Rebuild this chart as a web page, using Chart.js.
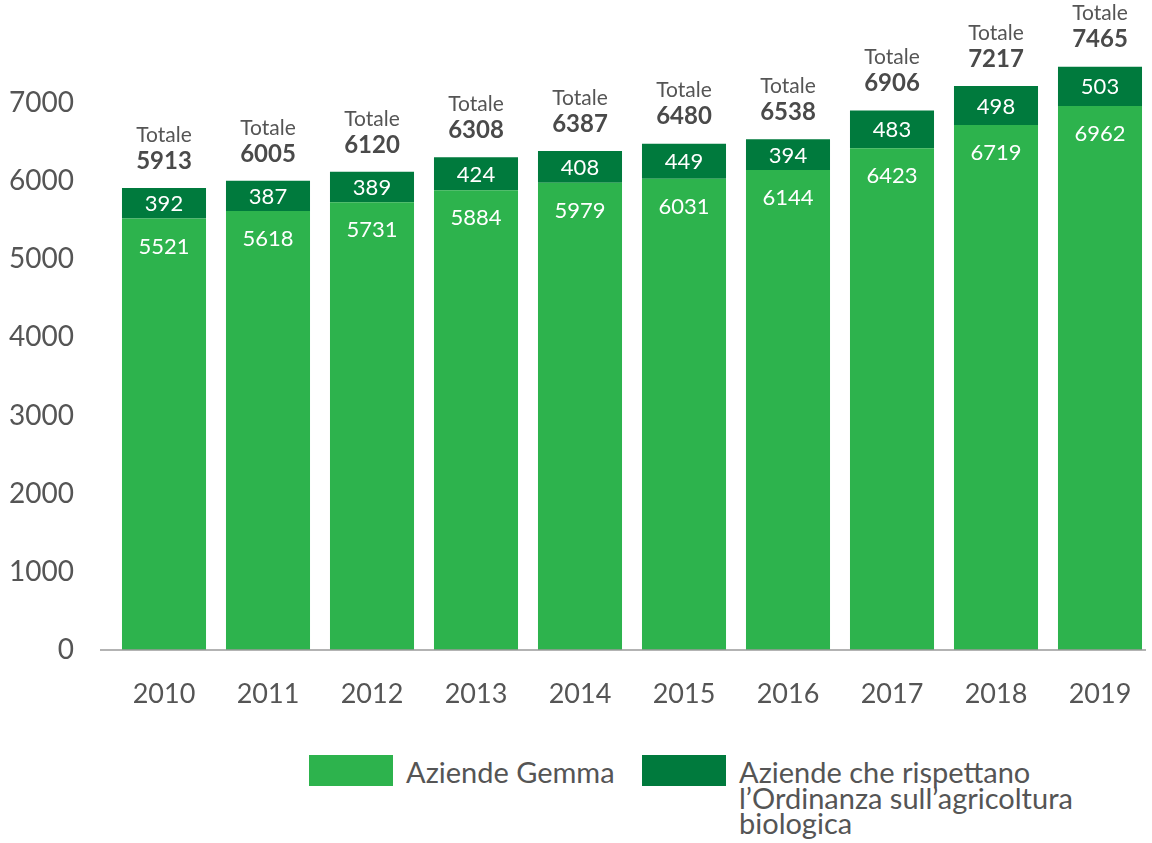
<!DOCTYPE html>
<html>
<head>
<meta charset="utf-8">
<script src="https://cdn.jsdelivr.net/npm/chart.js@4"></script>
<style>
  html, body { margin: 0; padding: 0; background: #fff; }
  body { width: 1152px; height: 843px; position: relative; overflow: hidden; font-family: Lato, "Open Sans", sans-serif; }
  #wrap { position: absolute; left: 0; top: 0; width: 1152px; height: 740px; }
  .legend { position: absolute; top: 755px; left: 0; width: 1152px; color: #555; font-size: 29px; line-height: 25.5px; }
  .legend-item { position: absolute; display: flex; align-items: flex-start; }
  .legend-box { width: 84px; height: 31px; margin-right: 13px; flex: none; }
  .legend-text { margin-top: 4px; white-space: nowrap; }
</style>
</head>
<body>
<div id="wrap"><canvas id="chart" width="1152" height="740"></canvas></div>
<div class="legend" id="legend"></div>
<script>
// chart data
const years = ['2010', '2011', '2012', '2013', '2014', '2015', '2016', '2017', '2018', '2019'];
const gemma = [5521, 5618, 5731, 5884, 5979, 6031, 6144, 6423, 6719, 6962];
const ordinanza = [392, 387, 389, 424, 408, 449, 394, 483, 498, 503];
const totals = [5913, 6005, 6120, 6308, 6387, 6480, 6538, 6906, 7217, 7465];
const yTicks = [0, 1000, 2000, 3000, 4000, 5000, 6000, 7000];

const labelGemma = 'Aziende Gemma';
const labelOrdinanza = ['Aziende che rispettano', 'l\u2019Ordinanza sull\u2019agricoltura', 'biologica'];

const lightGreen = '#2db34d';
const darkGreen = '#007a3d';
const textColor = '#555555';

// draws values inside the bars, totals above and the baseline
const barLabels = {
    id: 'barLabels',
    afterDatasetsDraw(chart) {
        const ctx = chart.ctx;
        const lower = chart.getDatasetMeta(0).data;
        const upper = chart.getDatasetMeta(1).data;
        const area = chart.chartArea;

        ctx.save();
        ctx.strokeStyle = '#9a9a9a';
        ctx.lineWidth = 1.5;
        ctx.beginPath();
        ctx.moveTo(area.left - 12, area.bottom);
        ctx.lineTo(area.right - 6, area.bottom);
        ctx.stroke();

        ctx.textAlign = 'center';
        ctx.textBaseline = 'middle';
        lower.forEach((bar, i) => {
            const top = upper[i];
            ctx.fillStyle = '#ffffff';
            ctx.font = '22px Lato, sans-serif';
            ctx.fillText(gemma[i], bar.x, bar.y + 28);
            ctx.fillText(ordinanza[i], top.x, (top.y + bar.y) / 2 + 1);

            ctx.fillStyle = '#4a4a4a';
            ctx.font = 'bold 24px Lato, sans-serif';
            ctx.fillText(totals[i], top.x, top.y - 27);
            ctx.fillStyle = textColor;
            ctx.font = '21px Lato, sans-serif';
            ctx.fillText('Totale', top.x, top.y - 53);
        });
        ctx.restore();
    }
};

const chart = new Chart(document.getElementById('chart').getContext('2d'), {
    type: 'bar',
    data: {
        labels: years,
        datasets: [{
            label: labelGemma,
            data: gemma,
            backgroundColor: lightGreen,
            categoryPercentage: 1,
            barPercentage: 0.808
        }, {
            label: labelOrdinanza.join(' '),
            data: ordinanza,
            backgroundColor: darkGreen,
            categoryPercentage: 1,
            barPercentage: 0.808
        }]
    },
    options: {
        responsive: false,
        animation: false,
        layout: { padding: 0 },
        plugins: {
            legend: { display: false },
            tooltip: { enabled: false }
        },
        scales: {
            x: {
                stacked: true,
                grid: { display: false },
                border: { display: false },
                ticks: { color: textColor, font: { size: 27, family: 'Lato' }, padding: 20 },
                afterFit: function(scale) { scale.height = 90; }
            },
            y: {
                stacked: true,
                min: 0,
                max: 7720,
                grid: { display: false },
                border: { display: false },
                afterBuildTicks: function(scale) {
                    scale.ticks = yTicks.map(v => ({ value: v }));
                },
                ticks: {
                    color: textColor,
                    font: { size: 28, family: 'Lato' },
                    padding: 30,
                    callback: function(value) { return String(value); }
                },
                afterFit: function(scale) { scale.width = 112; }
            }
        }
    },
    plugins: [barLabels]
});

// html legend (second label wraps on three lines)
const legend = document.getElementById('legend');
legend.innerHTML = `
    <div class="legend-item" style="left:309px">
        <div class="legend-box" style="background:${lightGreen}"></div>
        <div class="legend-text">${labelGemma}</div>
    </div>
    <div class="legend-item" style="left:642px">
        <div class="legend-box" style="background:${darkGreen}"></div>
        <div class="legend-text">${labelOrdinanza.join('<br>')}</div>
    </div>
`;
</script>
</body>
</html>
